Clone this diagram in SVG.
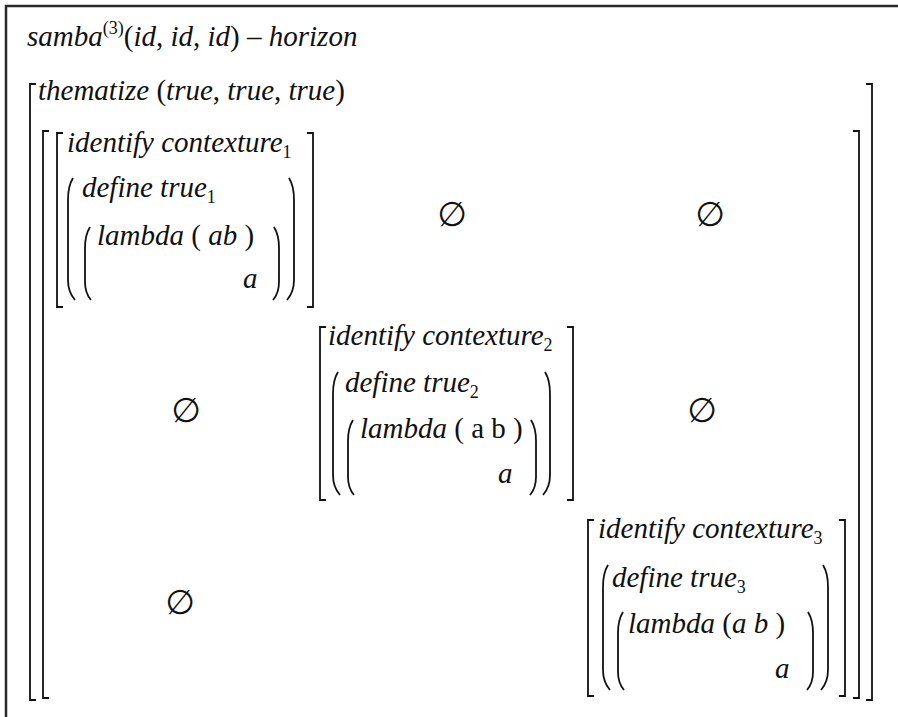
<svg xmlns="http://www.w3.org/2000/svg" width="898" height="717" viewBox="0 0 898 717">
<style>
text{font-family:"Liberation Serif","Times New Roman",serif;font-size:29px;fill:#111}
.i{font-style:italic}
.u{font-style:normal}
.sub{font-size:18px;font-style:normal}
.es{font-family:"DejaVu Sans","Liberation Serif",sans-serif;font-size:34px;text-anchor:middle}
.br{fill:none;stroke:#111;stroke-width:1.8}
.fr{fill:none;stroke:#2a2a2a;stroke-width:2.5}
</style>
<rect width="898" height="717" fill="#fff"/>
<g id="frame"><path class="fr" d="M6,717 V6 H898"/></g>
<g id="title">
<text x="27" y="46"><tspan class="i">samba</tspan><tspan class="sub" dy="-12">(3)</tspan><tspan dy="12">(</tspan><tspan class="i">id</tspan>, <tspan class="i">id</tspan>, <tspan class="i">id</tspan>) – <tspan class="i">horizon</tspan></text>
</g>
<g id="outer">
<text x="38" y="100"><tspan class="i">thematize</tspan> (<tspan class="i">true</tspan>, <tspan class="i">true</tspan>, <tspan class="i">true</tspan>)</text>
<path class="br" d="M36,84 H30 V700 H36"/>
<path class="br" d="M866,84 H872 V700 H866"/>
<path class="br" d="M49,131 H43 V698 H49"/>
<path class="br" d="M853,131 H859 V698 H853"/>
</g>
<g id="context1">
<path class="br" d="M63,133 H57 V307 H63"/>
<path class="br" d="M307,133 H313 V307 H307"/>
<text x="67" y="152"><tspan class="i">identify contexture</tspan><tspan class="sub" dy="6">1</tspan></text>
<path class="br" d="M73,178 Q68,186 68,200 V280 Q68,292 75,300"/>
<path class="br" d="M289,178 Q294,186 294,200 V280 Q294,292 287,300"/>
<text x="82" y="197"><tspan class="i">define true</tspan><tspan class="sub" dy="6">1</tspan></text>
<path class="br" d="M90,227 Q85,235 85,248 V282 Q85,293 91,300"/>
<path class="br" d="M274,227 Q279,235 279,248 V282 Q279,293 273,300"/>
<text x="97" y="245"><tspan class="i">lambda</tspan> ( <tspan class="i">ab</tspan> )</text>
<text x="243" y="288" class="i">a</text>
</g>
<g id="context2">
<path class="br" d="M326,327 H320 V500 H326"/>
<path class="br" d="M567,327 H573 V500 H567"/>
<text x="328" y="345"><tspan class="i">identify contexture</tspan><tspan class="sub" dy="6">2</tspan></text>
<path class="br" d="M338,372 Q333,380 333,394 V475 Q333,487 340,495"/>
<path class="br" d="M545,372 Q550,380 550,394 V475 Q550,487 543,495"/>
<text x="345" y="392"><tspan class="i">define true</tspan><tspan class="sub" dy="6">2</tspan></text>
<path class="br" d="M353,420 Q348,428 348,441 V477 Q348,488 354,495"/>
<path class="br" d="M531,420 Q536,428 536,441 V477 Q536,488 530,495"/>
<text x="360" y="438"><tspan class="i">lambda</tspan> ( a b )</text>
<text x="498" y="483" class="i">a</text>
</g>
<g id="context3">
<path class="br" d="M594,520 H588 V696 H594"/>
<path class="br" d="M839,520 H845 V696 H839"/>
<text x="598" y="538"><tspan class="i">identify contexture</tspan><tspan class="sub" dy="6">3</tspan></text>
<path class="br" d="M608,565 Q603,573 603,587 V670 Q603,682 610,690"/>
<path class="br" d="M823,565 Q828,573 828,587 V670 Q828,682 821,690"/>
<text x="612" y="587"><tspan class="i">define true</tspan><tspan class="sub" dy="6">3</tspan></text>
<path class="br" d="M623,612 Q618,620 618,633 V672 Q618,683 624,690"/>
<path class="br" d="M808,612 Q813,620 813,633 V672 Q813,683 807,690"/>
<text x="628" y="633"><tspan class="i">lambda</tspan> (<tspan class="i">a b</tspan> )</text>
<text x="775" y="678" class="i">a</text>
</g>
<g id="empties">
<text class="es" x="452" y="226">∅</text>
<text class="es" x="710" y="226">∅</text>
<text class="es" x="186" y="422">∅</text>
<text class="es" x="702" y="422">∅</text>
<text class="es" x="180" y="614">∅</text>
</g>
</svg>
